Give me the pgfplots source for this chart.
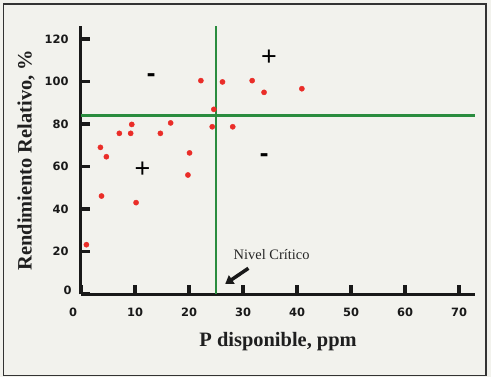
\documentclass[border=0pt]{standalone}
\usepackage{pgfplots}
\pgfplotsset{compat=1.18}
\usepackage{fontspec}
\setmainfont{Liberation Serif}
\newfontfamily\tickfont{DejaVu Sans}
\newfontfamily\signfont{Liberation Sans}
\usetikzlibrary{arrows.meta}
\definecolor{bg}{RGB}{242,242,237}
\definecolor{grn}{RGB}{42,140,62}
\definecolor{dotred}{RGB}{234,45,40}
\begin{document}
\begin{tikzpicture}
\fill[bg] (-81bp,-83bp) rectangle (410bp,294bp);
\draw[line width=1.6bp, black!80] (-77.5bp,-81.5bp) rectangle (405bp,290bp);
\begin{axis}[
  at={(0,0)}, anchor=south west,
  scale only axis, width=394.2bp, height=267.75bp,
  xmin=0, xmax=73, ymin=0, ymax=126,
  axis x line=bottom, axis y line=left,
  axis line style={-, line width=3bp, black!90},
  xtick={10,20,...,70}, ytick={20,40,...,120},
  extra x ticks={0}, extra y ticks={0},
  extra x tick style={xticklabel style={xshift=-8bp}},
  extra y tick style={yticklabel style={xshift=3bp, yshift=4bp}},
  tick align=inside, major tick length=9bp,
  tick style={line width=3.2bp, black!90},
  /pgf/number format/assume math mode=true,
  ticklabel style={font=\tickfont\bfseries\fontsize{11.5}{13}\selectfont, text=black!90},
  xticklabel style={yshift=-10bp},
  yticklabel style={xshift=-9bp},
  xlabel={P disponible, ppm},
  ylabel={Rendimiento Relativo, \%},
  xlabel style={at={([yshift=-52.7bp]axis description cs:0.5,0)}, anchor=base, font=\bfseries\fontsize{20.5}{24}\selectfont, text=black!88},
  ylabel style={at={([xshift=-49.3bp]axis description cs:0,0.5)}, anchor=base, rotate=0, font=\bfseries\fontsize{20.5}{24}\selectfont, text=black!88},
  clip=false,
]
\addplot[grn, line width=3bp] coordinates {(0,84) (73,84)};
\addplot[grn, line width=2.8bp] coordinates {(25,0) (25,126)};
\addplot[only marks, mark=*, mark size=2.6bp, color=dotred] coordinates {
(1.0,23.2) (3.8,46.1) (3.6,69.0) (4.7,64.6) (7.1,75.6) (9.2,75.6) (9.4,79.8)
(10.2,43.0) (14.7,75.6) (16.6,80.5) (20.1,66.4) (19.8,56.0) (22.2,100.4)
(24.6,86.9) (24.3,78.7) (26.2,99.8) (28.1,78.7) (31.7,100.4) (33.9,94.9) (40.9,96.6)
};
\draw[line width=3.5bp, black!90, -{Triangle[length=8bp,width=10bp]}] (axis cs:31.0,12.1) -- (axis cs:26.7,4.7);
\node[font=\fontsize{14.5}{16}\selectfont, text=black!85] at (axis cs:35.3,18.4) {Nivel Crítico};
\node[font=\signfont\fontsize{27}{30}\selectfont, inner sep=0pt] at (axis cs:11.4,58.7) {+};
\node[font=\signfont\fontsize{27}{30}\selectfont, inner sep=0pt] at (axis cs:34.8,111.4) {+};
\node[font=\tickfont\bfseries\fontsize{22}{24}\selectfont, inner sep=0pt] at (axis cs:13,102) {-};
\node[font=\tickfont\bfseries\fontsize{22}{24}\selectfont, inner sep=0pt] at (axis cs:33.9,64.3) {-};
\end{axis}
\pgfresetboundingbox
\path (-81bp,-83bp) rectangle (410bp,294bp);
\end{tikzpicture}
\end{document}
